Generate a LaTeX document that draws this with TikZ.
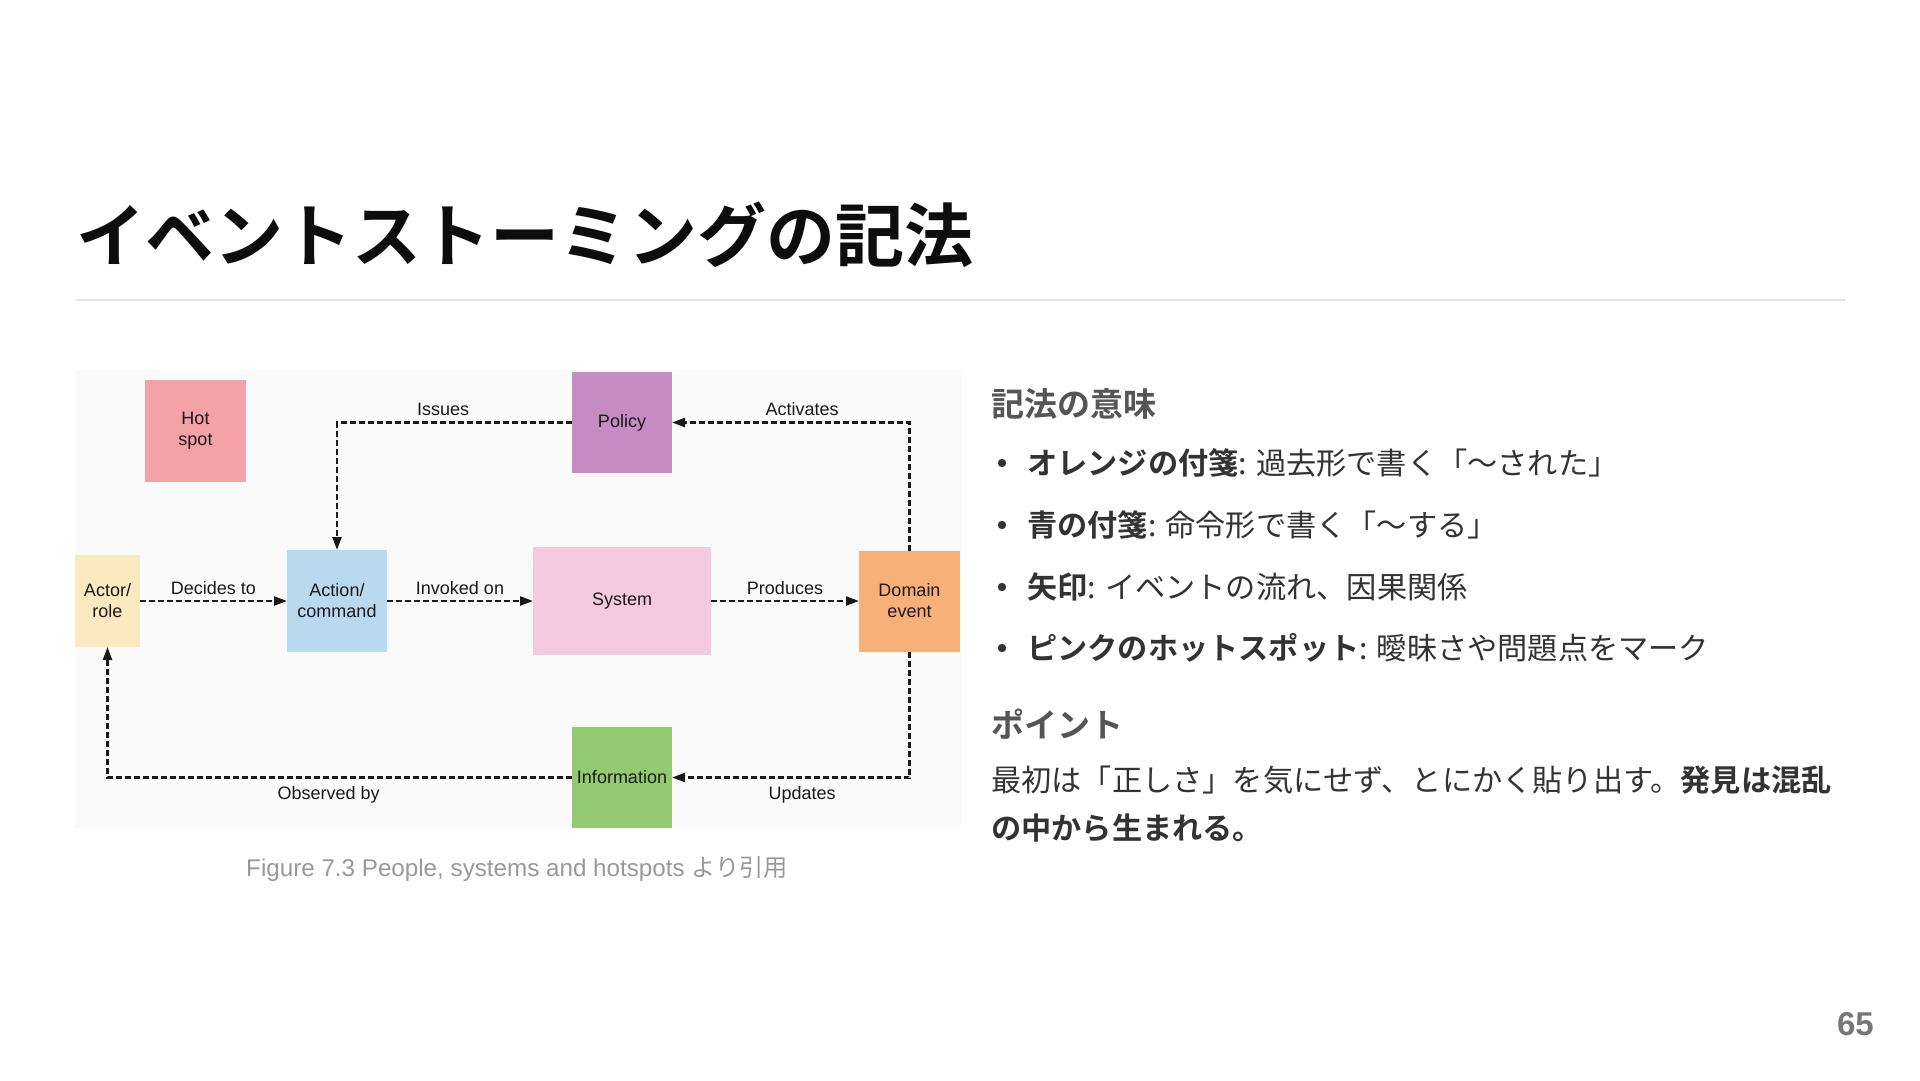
\documentclass[tikz,border=0pt]{standalone}
\usepackage{fontspec}
\setmainfont{Liberation Sans}
\newfontfamily\cjk{Noto Sans CJK JP}[BoldFont={Noto Sans CJK JP Bold}]
\usepackage{xcolor}
\usetikzlibrary{arrows.meta,positioning}

\definecolor{hotspotC}{HTML}{F4A1A7}
\definecolor{actorC}{HTML}{FBE9BF}
\definecolor{commandC}{HTML}{B9DAEE}
\definecolor{systemC}{HTML}{F5C9DE}
\definecolor{policyC}{HTML}{C48CC0}
\definecolor{eventC}{HTML}{F7B077}
\definecolor{infoC}{HTML}{93C970}
\definecolor{panelC}{HTML}{FAFAFA}
\definecolor{ruleC}{HTML}{E2E2E2}
\definecolor{headC}{HTML}{555555}
\definecolor{bodyC}{HTML}{333333}
\definecolor{capC}{HTML}{999999}
\definecolor{pageC}{HTML}{777777}

\begin{document}
\begin{tikzpicture}[x=1pt, y=-1pt,
  note/.style={inner sep=0pt, outer sep=0pt, minimum width=100pt,
               minimum height=101pt, align=center, text=black!90,
               font=\fontsize{18}{21}\selectfont},
  flow/.style={black!90, line width=2.3pt, dash pattern=on 6pt off 3pt,
               -{Triangle[length=13pt, width=9pt]}},
  lblup/.style={anchor=base, yshift=7pt, text=black!90,
                font=\fontsize{18}{21}\selectfont},
  lbldown/.style={anchor=base, yshift=-22pt, text=black!90,
                  font=\fontsize{18}{21}\selectfont},
  heading/.style={anchor=west, inner sep=0pt, text=headC,
                  font=\cjk\bfseries\fontsize{33}{40}\selectfont},
  body/.style={anchor=west, inner sep=0pt, text=bodyC,
               font=\cjk\fontsize{30.2}{36}\selectfont}]

% ---------------------------------------------------------
% Parameters (pixels, y downwards)
% ---------------------------------------------------------
\pgfmathsetmacro{\rowTop}{422.5}   % policy row
\pgfmathsetmacro{\rowMid}{601}     % main flow row
\pgfmathsetmacro{\rowBot}{777.5}   % information row
\pgfmathsetmacro{\colText}{991}    % right column
\pgfmathsetmacro{\colItem}{1027}   % bullet text

% ---------------------------------------------------------
% Page
% ---------------------------------------------------------
\fill[white] (0,0) rectangle (1920,1080);
\useasboundingbox (0,0) rectangle (1920,1080);

\node[anchor=west, inner sep=0pt, text=black!95,
      font=\cjk\bfseries\fontsize{69}{80}\selectfont] (title) at (76,235)
  {イベントストーミングの記法};
\draw[ruleC, line width=1.5pt] (76,300) -- (1845,300);

% ---------------------------------------------------------
% Diagram panel
% ---------------------------------------------------------
\fill[panelC] (75,370) rectangle (961,828);

\node[note, fill=hotspotC, minimum width=101pt, minimum height=102pt]
  (hot) at (195.5,431) {Hot\\spot};
\node[note, fill=actorC, minimum width=65pt, minimum height=92pt]
  (actor) at (107.5,\rowMid) {Actor/\\role};
\node[note, fill=commandC, minimum height=102pt]
  (action) at (337,\rowMid) {Action/\\command};
\node[note, fill=systemC, minimum width=178pt, minimum height=108pt]
  (system) at (622,\rowMid) {System};
\node[note, fill=policyC] (policy) at (622,\rowTop) {Policy};
\node[note, fill=eventC, minimum width=101pt] (event) at (909.5,\rowMid) {Domain\\event};
\node[note, fill=infoC] (info) at (622,\rowBot) {Information};

% ---------------------------------------------------------
% Flows
% ---------------------------------------------------------
\draw[flow] (actor) -- node[lblup] {Decides to} (action);
\draw[flow] (action) -- node[lblup] {Invoked on} (system);
\draw[flow] (system) -- node[lblup] {Produces} (event);
\draw[flow] (event.north) |- node[lblup, pos=0.726] {Activates} (policy.east);
\draw[flow] (policy.west) -| node[lblup, pos=0.274] {Issues} (action.north);
\draw[flow] (event.south) |- node[lbldown, pos=0.726] {Updates} (info.east);
\draw[flow] (info.west) -| node[lbldown, pos=0.262] {Observed by} (actor.south);

\node[text=capC, font=\fontsize{24.2}{28}\selectfont] (caption) at (517,869)
  {Figure 7.3 People, systems and hotspots {\cjk より引用}};

% ---------------------------------------------------------
% Right column
% ---------------------------------------------------------
\node[heading] (meaning) at (\colText,404) {記法の意味};

\foreach \yy in {463,525,587,648}
  \fill[bodyC] (1002,\yy) circle (4.2pt);

\node[body] (item1) at (\colItem,463) {\textbf{オレンジの付箋}: 過去形で書く「〜された」};
\node[body] (item2) at (\colItem,525) {\textbf{青の付箋}: 命令形で書く「〜する」};
\node[body] (item3) at (\colItem,587) {\textbf{矢印}: イベントの流れ、因果関係};
\node[body] (item4) at (\colItem,648) {\textbf{ピンクのホットスポット}: 曖昧さや問題点をマーク};

\node[heading] (point) at (\colText,724) {ポイント};
\node[body] (para1) at (\colText,780)
  {最初は「正しさ」を気にせず、とにかく貼り出す。\textbf{発見は混乱}};
\node[body] (para2) at (\colText,828) {\textbf{の中から生まれる。}};

% ---------------------------------------------------------
% Page number
% ---------------------------------------------------------
\node[anchor=east, inner sep=0pt, text=pageC,
      font=\bfseries\fontsize{33}{40}\selectfont] (page) at (1874,1024) {65};

\end{tikzpicture}
\end{document}
